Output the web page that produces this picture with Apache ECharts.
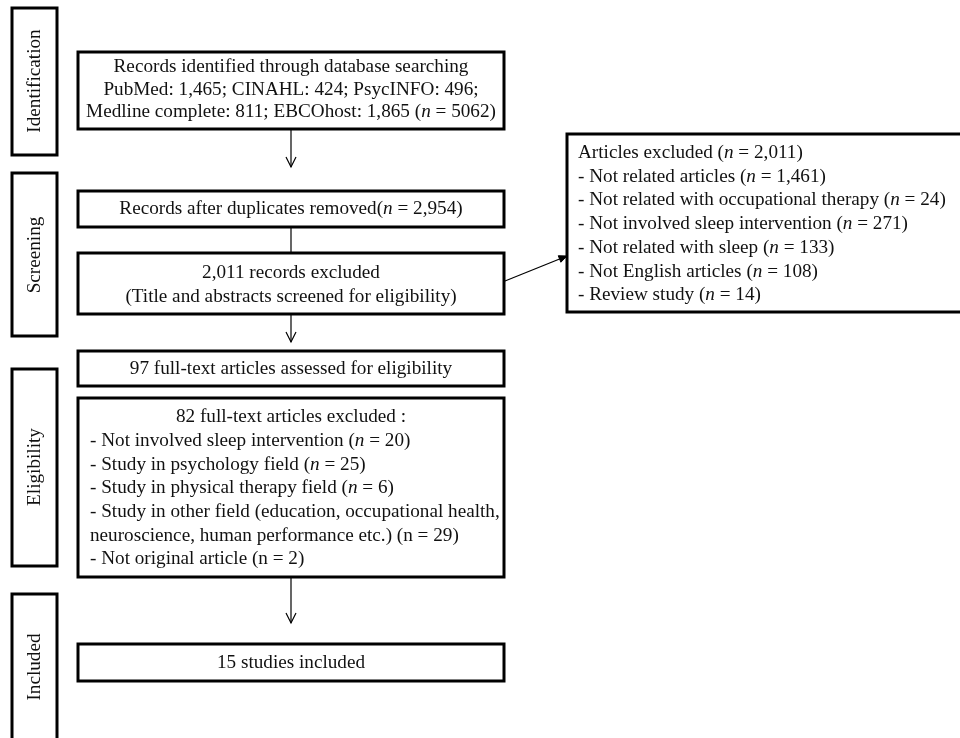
<!DOCTYPE html>
<html>
<head>
<meta charset="utf-8">
<script src="https://cdn.jsdelivr.net/npm/echarts@6/dist/echarts.min.js"></script>
<style>html,body{margin:0;padding:0;background:#fff}#c{width:960px;height:738px}</style>
</head>
<body>
<div id="c"></div>
<script>
// ---- content (text) ----
var stageLabels = ['Identification', 'Screening', 'Eligibility', 'Included'];
var identifiedLines = [
  'Records identified through database searching',
  'PubMed: 1,465; CINAHL: 424; PsycINFO: 496;',
  'Medline complete: 811; EBCOhost: 1,865 (*n* = 5062)'
];
var dedupLines = ['Records after duplicates removed(*n* = 2,954)'];
var screenedLines = ['2,011 records excluded', '(Title and abstracts screened for eligibility)'];
var assessedLines = ['97 full-text articles assessed for eligibility'];
var fullExcludedLines = [
  '82 full-text articles excluded :',
  '- Not involved sleep intervention (*n* = 20)',
  '- Study in psychology field (*n* = 25)',
  '- Study in physical therapy field (*n* = 6)',
  '- Study in other field (education, occupational health,',
  'neuroscience, human performance etc.) (n = 29)',
  '- Not original article (n = 2)'
];
var includedLines = ['15 studies included'];
var articlesExcludedLines = [
  'Articles excluded (*n* = 2,011)',
  '- Not related articles (*n* = 1,461)',
  '- Not related with occupational therapy (*n* = 24)',
  '- Not involved sleep intervention (*n* = 271)',
  '- Not related with sleep (*n* = 133)',
  '- Not English articles (*n* = 108)',
  '- Review study (*n* = 14)'
];

// ---- layout (pixel-unit coordinates on hidden axes) ----
var stageBoxes = [[12, 8, 57, 155, 81], [12, 173, 57, 336, 255], [12, 369, 57, 566, 467], [12, 594, 57, 752, 667]];
var flowBoxes = [
  {lines: identifiedLines, box: [78, 52, 504, 129], ys: [67, 89.5, 112], align: 'center'},
  {lines: dedupLines, box: [78, 191, 504, 227], ys: [209], align: 'center'},
  {lines: screenedLines, box: [78, 253, 504, 314], ys: [273, 297], align: 'center'},
  {lines: assessedLines, box: [78, 351, 504, 386], ys: [368.5], align: 'center'},
  {lines: fullExcludedLines, box: [78, 398, 504, 577], ys: [417, 441, 465, 488, 512, 536, 559], align: 'mixed', lx: 90},
  {lines: includedLines, box: [78, 644, 504, 681], ys: [662.5], align: 'center'},
  {lines: articlesExcludedLines, box: [567, 134, 966, 312], ys: [153, 177, 200, 224, 248, 272, 295], align: 'left', lx: 578}
];
var arrows = [
  [[291, 129], [291, 167], 'open'],
  [[291, 227], [291, 253], 'none'],
  [[291, 314], [291, 342], 'open'],
  [[291, 577], [291, 623], 'open'],
  [[505, 281], [567, 256], 'solid']
];

var FONT = '"Liberation Serif","Times New Roman",serif';
var FS = 19.2;
function toRich(s) { return s.replace(/\*n\*/g, '{i|n}'); }
var richStyle = { i: { fontStyle: 'italic', fontSize: FS, fontFamily: FONT, fill: '#111' } };

var chart = echarts.init(document.getElementById('c'), null, {renderer: 'canvas'});

function textEl(x, y, s, align, rot) {
  var el = {
    type: 'text', x: x, y: y,
    style: {
      text: toRich(s), fill: '#111', fontSize: FS, fontFamily: FONT,
      align: align, verticalAlign: 'middle',
      textAlign: align, textVerticalAlign: 'middle',
      rich: richStyle
    }
  };
  if (rot) { el.rotation = rot; }
  return el;
}

var option = {
  backgroundColor: '#fff',
  animation: false,
  grid: {left: 0, right: 0, top: 0, bottom: 0},
  xAxis: {type: 'value', min: 0, max: 960, show: false},
  yAxis: {type: 'value', min: 0, max: 738, inverse: true, show: false},
  series: [
    {
      type: 'custom', name: 'stages',
      data: stageLabels.map(function (s, i) { return [i]; }),
      clip: false,
      renderItem: function (params, api) {
        var i = api.value(0);
        var b = stageBoxes[i];
        var p0 = api.coord([b[0], b[1]]), p1 = api.coord([b[2], b[3]]);
        var c = api.coord([(b[0] + b[2]) / 2, b[4]]);
        return {
          type: 'group',
          children: [
            {type: 'rect', shape: {x: p0[0], y: p0[1], width: p1[0] - p0[0], height: p1[1] - p0[1]},
             style: {fill: '#fff', stroke: '#000', lineWidth: 3}},
            textEl(c[0], c[1], stageLabels[i], 'center', Math.PI / 2)
          ]
        };
      }
    },
    {
      type: 'custom', name: 'boxes',
      data: flowBoxes.map(function (b, i) { return [i]; }),
      clip: false,
      renderItem: function (params, api) {
        var fb = flowBoxes[api.value(0)];
        var b = fb.box;
        var p0 = api.coord([b[0], b[1]]), p1 = api.coord([b[2], b[3]]);
        var children = [
          {type: 'rect', shape: {x: p0[0], y: p0[1], width: p1[0] - p0[0], height: p1[1] - p0[1]},
           style: {fill: '#fff', stroke: '#000', lineWidth: 3}}
        ];
        fb.lines.forEach(function (ln, k) {
          var align = fb.align;
          var xx;
          if (align === 'mixed') { align = k === 0 ? 'center' : 'left'; }
          if (align === 'center') { xx = (b[0] + b[2]) / 2; } else { xx = fb.lx; }
          var pt = api.coord([xx, fb.ys[k]]);
          children.push(textEl(pt[0], pt[1], ln, align));
        });
        return {type: 'group', children: children};
      }
    },
    {
      type: 'custom', name: 'arrows',
      data: arrows.map(function (a, i) { return [i]; }),
      clip: false,
      renderItem: function (params, api) {
        var a = arrows[api.value(0)];
        var s = api.coord(a[0]), e = api.coord(a[1]);
        var dx = e[0] - s[0], dy = e[1] - s[1];
        var len = Math.sqrt(dx * dx + dy * dy);
        var ux = dx / len, uy = dy / len;
        var children = [
          {type: 'line', shape: {x1: s[0], y1: s[1], x2: e[0], y2: e[1]}, style: {stroke: '#000', lineWidth: 1.2}}
        ];
        if (a[2] === 'open') {
          var L = 10, W = 5;
          children.push({type: 'polyline', shape: {points: [
            [e[0] - ux * L - uy * W, e[1] - uy * L + ux * W], [e[0], e[1]], [e[0] - ux * L + uy * W, e[1] - uy * L - ux * W]
          ]}, style: {stroke: '#000', lineWidth: 1.2, fill: null}});
        } else if (a[2] === 'solid') {
          var L2 = 8, W2 = 3.5;
          children.push({type: 'polygon', shape: {points: [
            [e[0] - ux * L2 - uy * W2, e[1] - uy * L2 + ux * W2], [e[0], e[1]], [e[0] - ux * L2 + uy * W2, e[1] - uy * L2 - ux * W2]
          ]}, style: {fill: '#000', stroke: '#000', lineWidth: 1}});
        }
        return {type: 'group', children: children};
      }
    }
  ]
};
chart.setOption(option);
</script>
</body>
</html>
